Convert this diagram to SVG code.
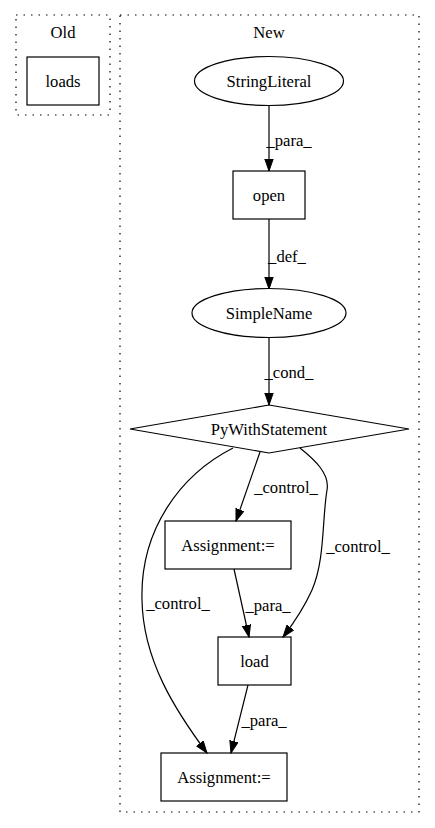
<svg xmlns="http://www.w3.org/2000/svg" width="435" height="828" viewBox="0 0 435 828">
<defs>
<style>
.t{font-family:"Times New Roman","Liberation Serif",Times,serif;font-size:16.6px;fill:#000;text-anchor:middle}
.n{fill:none;stroke:#000;stroke-width:1.2}
.c{fill:none;stroke:#000;stroke-width:1.2;stroke-dasharray:1.5,6}
.e{fill:none;stroke:#000;stroke-width:1.2;marker-end:url(#ah)}
</style>
<marker id="ah" markerUnits="userSpaceOnUse" markerWidth="13" markerHeight="10" refX="12" refY="4.5" orient="auto">
<polygon points="0,0.3 12,4.5 0,8.7" fill="#000" stroke="#000" stroke-width="1"/>
</marker>
</defs>
<rect width="435" height="828" fill="#fff"/>
<g id="cluster_old">
<rect class="c" x="16" y="15" width="94" height="100"/>
<text class="t" x="63" y="38">Old</text>
</g>
<g id="cluster_new">
<rect class="c" x="120" y="15" width="299" height="797"/>
<text class="t" x="269" y="38">New</text>
</g>
<g id="loads">
<rect class="n" x="27" y="57" width="72" height="48"/>
<text class="t" x="63" y="87">loads</text>
</g>
<g id="stringliteral">
<ellipse class="n" cx="269" cy="81" rx="74.5" ry="24.5"/>
<text class="t" x="269" y="87">StringLiteral</text>
</g>
<g id="open">
<rect class="n" x="233" y="171" width="72" height="48"/>
<text class="t" x="269" y="201">open</text>
</g>
<g id="simplename">
<ellipse class="n" cx="269" cy="313" rx="77" ry="24.5"/>
<text class="t" x="269" y="319">SimpleName</text>
</g>
<g id="pywith">
<polygon class="n" points="269,405 409,429 269,453 130,429"/>
<text class="t" x="269" y="435">PyWithStatement</text>
</g>
<g id="assign1">
<rect class="n" x="165" y="521" width="126" height="48"/>
<text class="t" x="228" y="551">Assignment:=</text>
</g>
<g id="load">
<rect class="n" x="218" y="637" width="73" height="48"/>
<text class="t" x="254.5" y="667">load</text>
</g>
<g id="assign2">
<rect class="n" x="161" y="753" width="126" height="48"/>
<text class="t" x="224" y="783">Assignment:=</text>
</g>
<g id="edges">
<path class="e" d="M269,106 L269,171"/>
<text class="t" x="289" y="146">_para_</text>
<path class="e" d="M269,219 L269,289"/>
<text class="t" x="287" y="262">_def_</text>
<path class="e" d="M269,338 L269,405"/>
<text class="t" x="289" y="378">_cond_</text>
<path class="e" d="M260,452 L236,521"/>
<text class="t" x="286" y="493">_control_</text>
<path class="e" d="M300,448 C315,460 330,474 327,490 C322,520 325,560 312,590 C303,610 293,624 283,637"/>
<text class="t" x="358" y="552">_control_</text>
<path class="e" d="M233,448 C180,475 140,530 142,600 C143,660 175,710 207,753"/>
<text class="t" x="178" y="609">_control_</text>
<path class="e" d="M234,569 L249,637"/>
<text class="t" x="268" y="611">_para_</text>
<path class="e" d="M248,685 L231,753"/>
<text class="t" x="264" y="726">_para_</text>
</g>
</svg>
